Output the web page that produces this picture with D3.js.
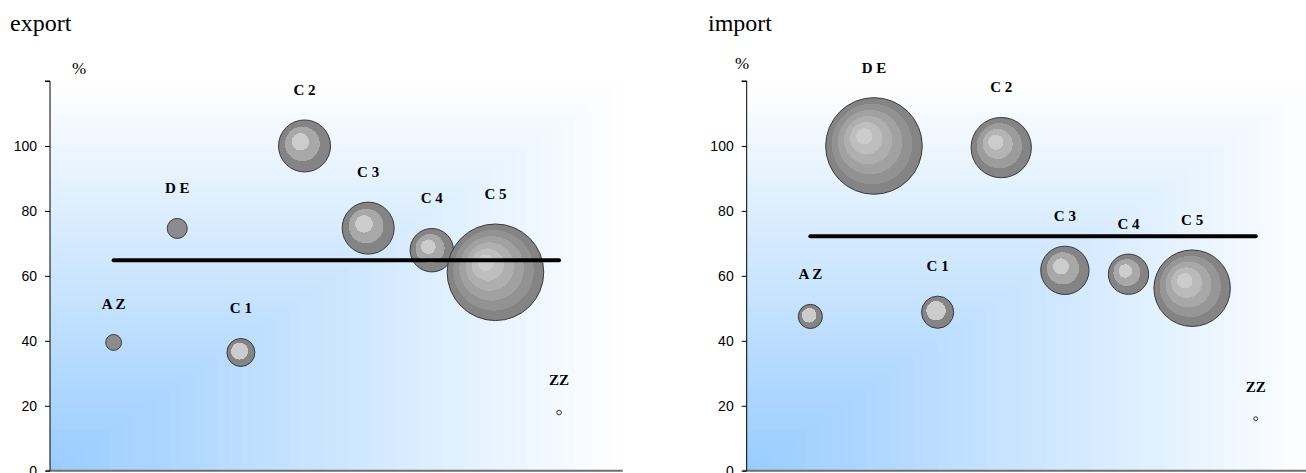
<!DOCTYPE html>
<html>
<head>
<meta charset="utf-8">
<script src="https://cdn.jsdelivr.net/npm/d3@7"></script>
<style>
  html, body { margin: 0; padding: 0; background: #ffffff; overflow: hidden; }
  svg { display: block; }
</style>
</head>
<body>
<svg id="chart" width="1306" height="473"></svg>
<script>
// ---- data ----
const categories = ["A Z", "D E", "C 1", "C 2", "C 3", "C 4", "C 5", "ZZ"];
const exportValues = [39.5, 74.6, 36.4, 100, 74.7, 67.9, 61.1, 17.9];
const exportSizes = [2.7, 4.3, 8.4, 29, 29, 20.2, 100, 0.23];
const exportAverage = 64.8;
const importValues = [47.5, 100, 48.8, 99.5, 61.7, 60.5, 56.2, 16];
const importSizes = [6.25, 100, 11.1, 39, 25, 17.4, 62.7, 0.17];
const importAverage = 72.2;
const yTicks = [0, 20, 40, 60, 80, 100, 120];
const yLabelTicks = [0, 20, 40, 60, 80, 100];

const svg = d3.select("#chart");
const defs = svg.append("defs");

// stepped radial gradients for bubbles, number of bands depends on bubble size
const shade = d3.interpolateRgb("#848484", "#cccccc");
const gradCache = {};
function bubbleFill(rad) {
  if (rad < 4) return "#e8e8e8";
  const nb = Math.max(1, Math.round(rad / 8));
  if (nb === 1) return "#8c8c8c";
  const id = "bub" + nb;
  if (!gradCache[id]) {
    gradCache[id] = true;
    const gr = defs.append("radialGradient")
      .attr("id", id)
      .attr("cx", "50%").attr("cy", "50%").attr("r", "50%")
      .attr("fx", "38%").attr("fy", "38%");
    for (let k = 0; k < nb; k++) {
      // k = 0 is the innermost (lightest) band
      const c = shade(1 - k / (nb - 1));
      const o0 = nb === 2 ? [0, 0.6][k] : k / nb;
      const o1 = nb === 2 ? [0.6, 1][k] : (k + 1) / nb;
      gr.append("stop").attr("offset", o0).attr("stop-color", c);
      gr.append("stop").attr("offset", o1).attr("stop-color", c);
    }
  }
  return `url(#${id})`;
}

function drawChart(opts) {
  const { left, top, bottom, right, title, titleX, pctX, pctY, values, sizes, average } = opts;
  const g = svg.append("g");

  const x = d3.scaleLinear().domain([0, 9]).range([left, right]);
  const y = d3.scaleLinear().domain([0, 120]).range([bottom, top]);
  const r = d3.scaleSqrt().domain([0, 100]).range([0, 48.3]);

  // background: corner gradient (bottom-left blue -> white), stepped bands
  const W = right - left, H = bottom - top;
  const col = d3.interpolateRgb("#99ccff", "#ffffff");
  const N = 48;
  const bg = g.append("g");
  for (let i = 0; i < N; i++) {
    const s = 1 - i / N;
    bg.append("rect")
      .attr("x", left).attr("y", bottom - s * H)
      .attr("width", s * W).attr("height", s * H)
      .attr("fill", col(Math.max(0, s - 0.5 / N)));
  }

  // title
  g.append("text")
    .attr("x", titleX).attr("y", 31)
    .attr("font-family", "'Liberation Serif', 'Times New Roman', serif")
    .attr("font-size", 24)
    .attr("fill", "#000")
    .text(title);

  // % label
  g.append("text")
    .attr("x", pctX).attr("y", pctY)
    .attr("text-anchor", "middle")
    .attr("dominant-baseline", "middle")
    .attr("font-family", "'Liberation Serif', 'Times New Roman', serif")
    .attr("font-size", 17)
    .attr("fill", "#000")
    .text("%");

  // x axis line (bottom)
  g.append("line")
    .attr("x1", left - 4).attr("x2", right)
    .attr("y1", bottom).attr("y2", bottom)
    .attr("stroke", "#6f6f6f").attr("stroke-width", 2);

  // y axis
  const yAxis = d3.axisLeft(y)
    .tickValues(yTicks)
    .tickSize(5)
    .tickPadding(8)
    .tickFormat(d => yLabelTicks.includes(d) ? d3.format("d")(d) : "");
  const ya = g.append("g").attr("transform", `translate(${left},0)`).call(yAxis);
  ya.select(".domain").attr("stroke", "#000").attr("stroke-width", 1)
    .attr("d", `M${-5},${top}H0V${bottom}`);
  ya.selectAll(".tick line").attr("stroke", "#000");
  ya.selectAll(".tick text")
    .attr("font-family", "'Liberation Sans', Arial, sans-serif")
    .attr("font-size", 14)
    .attr("fill", "#000");

  const data = categories.map((c, i) => ({ cat: c, pos: i + 1, v: values[i], s: sizes[i] }));

  // bubbles
  g.append("g").selectAll("circle")
    .data(data)
    .join("circle")
    .attr("cx", d => x(d.pos))
    .attr("cy", d => y(d.v))
    .attr("r", d => r(d.s))
    .attr("fill", d => bubbleFill(r(d.s)))
    .attr("stroke", "#3a3a3a")
    .attr("stroke-width", 1);

  // labels
  g.append("g").selectAll("text")
    .data(data)
    .join("text")
    .attr("x", d => x(d.pos))
    .attr("y", d => y(d.v) - r(d.s) - 30)
    .attr("text-anchor", "middle")
    .attr("dominant-baseline", "central")
    .attr("font-family", "'Liberation Serif', 'Times New Roman', serif")
    .attr("font-weight", "bold")
    .attr("font-size", 15)
    .attr("fill", "#000")
    .text(d => d.cat);

  // average line
  const line = d3.line().x(d => x(d.pos)).y(d => y(d.v));
  g.append("path")
    .datum([{ pos: 1, v: average }, { pos: categories.length, v: average }])
    .attr("d", line)
    .attr("fill", "none")
    .attr("stroke", "#000")
    .attr("stroke-width", 4)
    .attr("stroke-linecap", "round");
}

drawChart({
  left: 50, right: 622.7, top: 81, bottom: 470.7,
  title: "export", titleX: 10, pctX: 79, pctY: 70,
  values: exportValues, sizes: exportSizes, average: exportAverage
});
drawChart({
  left: 746.7, right: 1319.4, top: 81, bottom: 470.7,
  title: "import", titleX: 708, pctX: 742, pctY: 65,
  values: importValues, sizes: importSizes, average: importAverage
});
</script>
</body>
</html>
